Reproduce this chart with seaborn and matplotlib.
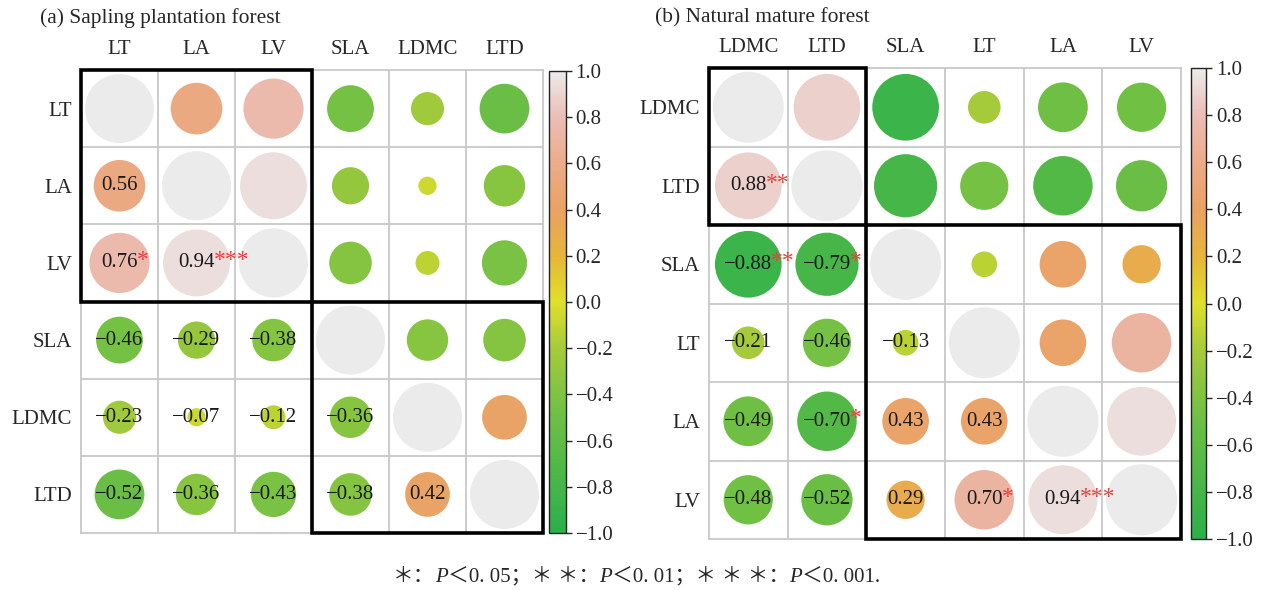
import numpy as np
import pandas as pd
import matplotlib
matplotlib.use("Agg")
import matplotlib.pyplot as plt
import seaborn as sns
from matplotlib.colors import LinearSegmentedColormap, Normalize
from matplotlib.cm import ScalarMappable
from matplotlib.patches import Rectangle
from matplotlib.ticker import FuncFormatter

sns.set_style("white")
plt.rcParams["font.family"] = ["Liberation Serif", "Noto Sans CJK SC"]

# (a) Sapling plantation forest
labels_a = ["LT", "LA", "LV", "SLA", "LDMC", "LTD"]
lower_a = [[0.56],
           [0.76, 0.94],
           [-0.46, -0.29, -0.38],
           [-0.23, -0.07, -0.12, -0.36],
           [-0.52, -0.36, -0.43, -0.38, 0.42]]
stars_a = [[""],
           ["*", "***"],
           ["", "", ""],
           ["", "", "", ""],
           ["", "", "", "", ""]]

# (b) Natural mature forest
labels_b = ["LDMC", "LTD", "SLA", "LT", "LA", "LV"]
lower_b = [[0.88],
           [-0.88, -0.79],
           [-0.21, -0.46, -0.13],
           [-0.49, -0.70, 0.43, 0.43],
           [-0.48, -0.52, 0.29, 0.70, 0.94]]
stars_b = [["**"],
           ["**", "*"],
           ["", "", ""],
           ["", "*", "", ""],
           ["", "", "", "*", "***"]]

# colour ramp green -> yellow -> orange -> pink -> grey
cmap = LinearSegmentedColormap.from_list("corr", [
    (0.00, "#2bb04a"), (0.25, "#6dbf45"), (0.40, "#a6cb3a"), (0.50, "#e0e02a"),
    (0.60, "#e7b53a"), (0.70, "#e9a262"), (0.80, "#ecab8a"), (0.90, "#ebbdb5"),
    (1.00, "#ebebeb")])
norm = Normalize(-1, 1)


def fmt(v):
    if abs(v) < 1e-9:
        v = 0.0
    return f"{v:.2f}".replace("-", "\u2212")


def build(labels, lower, stars):
    rows = []
    n = len(labels)
    for i in range(n):
        for j in range(n):
            if i == j:
                r, s = 1.0, ""
            elif i > j:
                r, s = lower[i - 1][j], stars[i - 1][j]
            else:
                r, s = lower[j - 1][i], ""
            rows.append(dict(x=j, y=i, r=r, size=abs(r), stars=s, low=i > j))
    return pd.DataFrame(rows)


def draw_panel(ax, cax, labels, lower, stars, boxes, smax):
    n = len(labels)
    df = build(labels, lower, stars)
    sns.scatterplot(data=df, x="x", y="y", hue="r", size="size", palette=cmap,
                    hue_norm=(-1, 1), sizes=(0, smax), size_norm=(0, 1),
                    linewidth=0, legend=False, ax=ax, zorder=3)
    ax.set_xlim(-0.5, n - 0.5)
    ax.set_ylim(n - 0.5, -0.5)
    for k in np.arange(0.5, n - 0.5, 1):
        ax.axhline(k, color="#c8c8c8", lw=1.3, zorder=1)
        ax.axvline(k, color="#c8c8c8", lw=1.3, zorder=1)
    for sp in ax.spines.values():
        sp.set_color("#c8c8c8")
        sp.set_linewidth(1.3)

    for _, row in df[df["low"]].iterrows():
        t = ax.text(row["x"], row["y"], fmt(row["r"]), ha="center", va="center",
                    fontsize=15, color="#1a1a1a", zorder=5)
        if row["stars"]:
            ax.annotate(row["stars"], xy=(0.97, 0.62), xycoords=t, ha="left",
                        va="center", fontsize=17, color="#f03c3c", zorder=6)

    for (a, b) in boxes:
        ax.add_patch(Rectangle((a - 0.5, a - 0.5), b - a, b - a, fill=False,
                               ec="black", lw=2.6, zorder=8, clip_on=False))

    ax.xaxis.tick_top()
    ax.set_xticks(range(n))
    ax.set_xticklabels(labels, fontsize=15)
    ax.set_yticks(range(n))
    ax.set_yticklabels(labels, fontsize=15)
    ax.tick_params(length=0)
    ax.tick_params(axis="y", pad=6.5)
    ax.tick_params(axis="x", pad=8)
    ax.set_xlabel("")
    ax.set_ylabel("")

    cb = plt.colorbar(ScalarMappable(norm=norm, cmap=cmap), cax=cax,
                      ticks=np.linspace(-1, 1, 11))
    cb.ax.yaxis.set_major_formatter(
        FuncFormatter(lambda v, _: f"{0.0 if abs(v) < 1e-9 else v:.1f}".replace("-", "\u2212")))
    cb.outline.set_edgecolor("#222222")
    cb.outline.set_linewidth(1.0)
    cb.ax.tick_params(length=4, width=1, labelsize=15, pad=3)


fig = plt.figure(figsize=(12.66, 5.9), dpi=100)
ax_a = fig.add_axes([0.064, 0.0966, 0.3649, 0.7847])
cax_a = fig.add_axes([0.4336, 0.0966, 0.0134, 0.7830])
ax_b = fig.add_axes([0.560, 0.0864, 0.3728, 0.7983])
cax_b = fig.add_axes([0.9408, 0.0864, 0.0119, 0.7983])

draw_panel(ax_a, cax_a, labels_a, lower_a, stars_a, [(0, 3), (3, 6)], 2470)
draw_panel(ax_b, cax_b, labels_b, lower_b, stars_b, [(0, 2), (2, 6)], 2620)

fig.text(40 / 1266, 1 - 18 / 590, "(a) Sapling plantation forest", fontsize=15.5,
         ha="left", va="center")
fig.text(655 / 1266, 1 - 18 / 590, "(b) Natural mature forest", fontsize=15.5,
         ha="left", va="center")

# footnote, with italic P
pieces = [("＊：", "normal"), ("P", "italic"), ("＜0. 05；＊ ＊：", "normal"),
          ("P", "italic"), ("＜0. 01；＊ ＊ ＊：", "normal"), ("P", "italic"),
          ("＜0. 001.", "normal")]
prev = fig.text(393 / 1266, 1 - 578 / 590, pieces[0][0], fontsize=15,
                ha="left", va="center")
for txt, style in pieces[1:]:
    prev = plt.annotate(txt, xy=(1, 0.5), xycoords=prev, ha="left", va="center",
                        fontsize=15, style=style, annotation_clip=False)

fig.savefig("out.png", dpi=100)
